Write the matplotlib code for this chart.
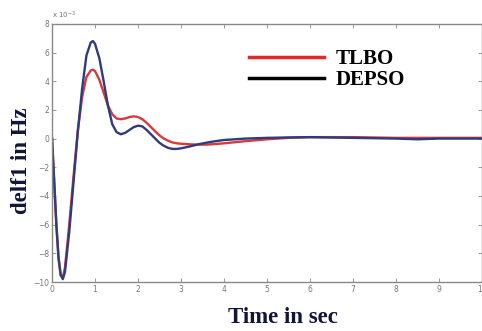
import matplotlib.pyplot as plt
from matplotlib.lines import Line2D

# time (s) and frequency deviation (x 1e-3 Hz)
t = [0, 0.05, 0.1, 0.15, 0.2, 0.25, 0.3, 0.4, 0.5, 0.6, 0.7, 0.8, 0.9, 0.95,
     1.0, 1.1, 1.2, 1.3, 1.4, 1.5, 1.6, 1.7, 1.8, 1.9, 2.0, 2.1, 2.2, 2.3,
     2.4, 2.5, 2.6, 2.7, 2.8, 2.9, 3.0, 3.2, 3.4, 3.6, 3.8, 4.0, 4.5, 5.0,
     5.5, 6.0, 7.0, 8.0, 8.5, 9.0, 10.0]
tlbo = [0, -3.0, -6.0, -8.3, -9.5, -9.7, -9.0, -6.0, -2.6, 0.6, 2.9, 4.3, 4.75, 4.8,
        4.7, 4.1, 3.2, 2.3, 1.7, 1.4, 1.35, 1.4, 1.5, 1.55, 1.5, 1.35, 1.1, 0.8,
        0.5, 0.22, 0.0, -0.15, -0.27, -0.33, -0.36, -0.4, -0.42, -0.42, -0.38, -0.33, -0.18, -0.05,
        0.05, 0.1, 0.1, 0.05, 0.05, 0.05, 0.05]
depso = [0, -3.0, -6.0, -8.3, -9.5, -9.8, -9.3, -6.5, -3.0, 0.5, 3.5, 5.8, 6.7, 6.8,
         6.6, 5.6, 4.0, 2.3, 1.0, 0.45, 0.3, 0.4, 0.6, 0.8, 0.9, 0.85, 0.6, 0.3,
         0.0, -0.3, -0.5, -0.65, -0.72, -0.72, -0.68, -0.55, -0.4, -0.28, -0.18, -0.1, 0.0, 0.05,
         0.08, 0.1, 0.05, 0.0, -0.05, 0.0, 0.0]

fig = plt.figure(figsize=(4.82, 3.31), dpi=100)
ax = fig.add_axes([0.108, 0.148, 0.892, 0.78])

ax.plot(t, tlbo, color='#d83a3c', lw=1.7)
ax.plot(t, depso, color='#2e3c7e', lw=1.7)

ax.set_xlim(0, 10)
ax.set_ylim(-10, 8)
ax.set_xticks(range(0, 11))
ax.set_yticks(range(-10, 9, 2))
ax.tick_params(direction='in', length=3, width=0.6, colors='#888888',
               labelsize=5.5, labelcolor='#777777', top=True, right=True, pad=2)
for s in ax.spines.values():
    s.set_color('#888888')
    s.set_linewidth(1.0)
ax.text(0.0, 1.01, r'x 10$^{-3}$', transform=ax.transAxes, fontsize=5,
        color='#777777', ha='left', va='bottom')

handles = [Line2D([], [], color='#e8262a', lw=2.5),
           Line2D([], [], color='black', lw=2.5)]
ax.legend(handles, ['TLBO', 'DEPSO'], loc='upper left', bbox_to_anchor=(0.415, 0.975),
          frameon=False, handlelength=3.6, handletextpad=0.55, labelspacing=0.05,
          prop={'family': 'Liberation Serif', 'weight': 'bold', 'size': 15})

fig.text(0.045, 0.515, 'delf1 in Hz', rotation=90, ha='center', va='center',
         family='Liberation Serif', weight='bold', fontsize=16.5, color='#10153a')
fig.text(0.587, 0.042, 'Time in sec', ha='center', va='center',
         family='Liberation Serif', weight='bold', fontsize=16.5, color='#10153a')

fig.savefig('out.png', dpi=100)
